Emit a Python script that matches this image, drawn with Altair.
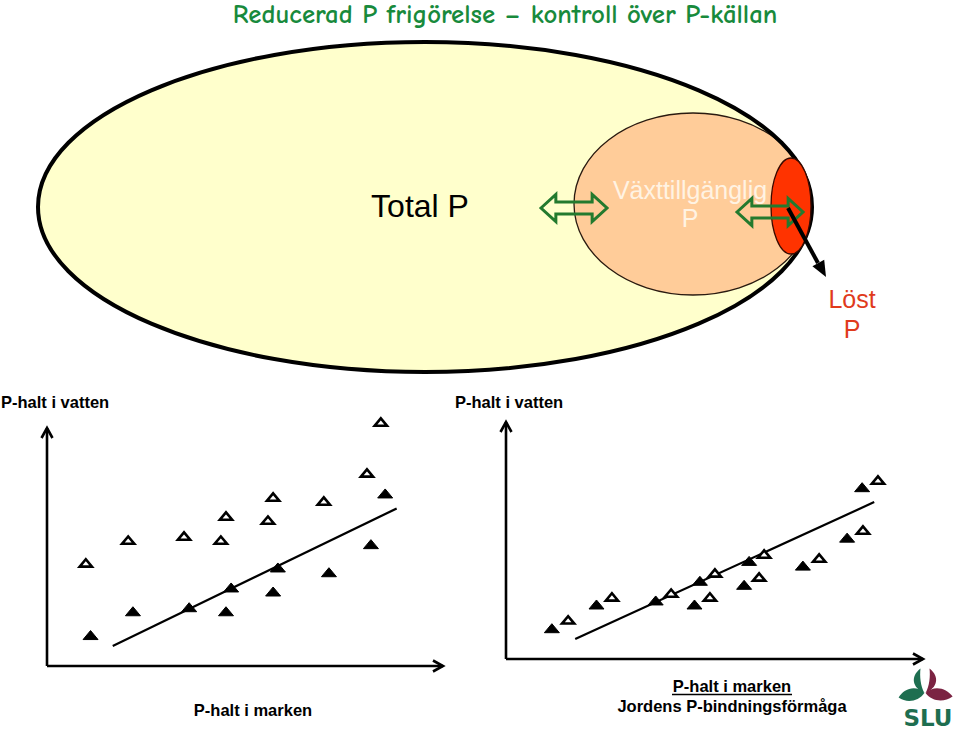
import altair as alt
import pandas as pd

# ---------------- data (scatter panels, arbitrary units 0-100) ----------------
soil_p_filled = [11.0, 21.7, 35.9, 45.2, 46.5, 57.1, 58.3, 71.2, 81.8, 85.4]
water_p_filled = [13.0, 23.0, 24.7, 23.0, 33.0, 31.3, 41.4, 39.4, 51.2, 72.5]

soil_p_open_left = [9.8, 20.5, 34.6, 43.9, 45.2, 55.8, 57.1, 69.9, 80.8, 84.3]
water_p_open_left = [43.3, 52.9, 54.6, 52.9, 63.0, 61.3, 71.0, 69.3, 81.1, 102.5]

soil_p_open_right = [14.9, 25.4, 39.6, 48.9, 50.1, 60.7, 61.9, 75.1, 85.6, 89.2]
water_p_open_right = [16.5, 26.2, 27.8, 26.2, 36.3, 34.6, 44.3, 42.6, 54.4, 75.5]

trend_x = [16.6, 88.3]
trend_y = [8.4, 66.2]

title_text = "Reducerad P frigörelse – kontroll över P-källan"
label_total = "Total P"
label_plant = ["Växttillgänglig", "P"]
label_dissolved = ["Löst", "P"]
label_water = "P-halt i vatten"
label_soil = "P-halt i marken"
label_binding = "Jordens P-bindningsförmåga"
logo_text = "SLU"

FONT = "Liberation Sans, Arial, sans-serif"


def ellipse_path(ax, ay):
    k = 0.5523
    r = lambda v: f"{v:.4f}"
    return (f"M{r(-ax)},0C{r(-ax)},{r(-k*ay)} {r(-k*ax)},{r(-ay)} 0,{r(-ay)}"
            f"C{r(k*ax)},{r(-ay)} {r(ax)},{r(-k*ay)} {r(ax)},0"
            f"C{r(ax)},{r(k*ay)} {r(k*ax)},{r(ay)} 0,{r(ay)}"
            f"C{r(-k*ax)},{r(ay)} {r(-ax)},{r(k*ay)} {r(-ax)},0Z")


PX = alt.X("x:Q", scale=None, axis=None)
PY = alt.Y("y:Q", scale=None, axis=None)


def shape(x, y, path, size, fill=None, stroke=None, sw=0, angle=0):
    kw = dict(shape=path, size=size, opacity=1, angle=angle)
    if fill is not None:
        kw.update(filled=True, fill=fill)
    else:
        kw.update(filled=False, fill="transparent")
    if stroke is not None:
        kw.update(stroke=stroke, strokeWidth=sw)
    else:
        kw.update(strokeWidth=0)
    return alt.Chart(pd.DataFrame({"x": [x], "y": [y]})).mark_point(**kw).encode(x=PX, y=PY)


def text(x, y, t, size, color="black", weight="normal", align="center", font=FONT):
    return alt.Chart(pd.DataFrame({"x": [x], "y": [y], "t": [t]})).mark_text(
        fontSize=size, color=color, fontWeight=weight, align=align, baseline="alphabetic", font=font
    ).encode(x=PX, y=PY, text="t:N")


layers = []

# ---------------- top diagram ----------------
big = ellipse_path(1.0, 165 / 387)
layers.append(shape(425, 207, big, (2 * 387) ** 2, fill="#FFFFCC"))
layers.append(shape(693, 204, ellipse_path(1.0, 91 / 119), (2 * 119) ** 2, fill="#FFCC99", stroke="#2a1a10", sw=1.3))
layers.append(shape(425, 207, big, (2 * 387) ** 2, stroke="#000000", sw=4))
layers.append(shape(791, 206, ellipse_path(20 / 48, 1.0), (2 * 48) ** 2, fill="#FF3300", stroke="#3a0a00", sw=1.3))

layers.append(text(420, 217, label_total, 32))
layers.append(text(690, 199, label_plant[0], 25, color="#FFF3E3"))
layers.append(text(690, 227, label_plant[1], 25, color="#FFF3E3"))
layers.append(text(852, 308, label_dissolved[0], 25, color="#E03A1C"))
layers.append(text(852, 338, label_dissolved[1], 25, color="#E03A1C"))

dbl = "M-1,0L-0.55,-0.41L-0.55,-0.18L0.55,-0.18L0.55,-0.41L1,0L0.55,0.41L0.55,0.18L-0.55,0.18L-0.55,0.41Z"
layers.append(shape(574, 208, dbl, 66 ** 2, stroke="#237A2E", sw=3))
layers.append(shape(770, 212, dbl, 66 ** 2, stroke="#237A2E", sw=3))

# black arrow
layers.append(alt.Chart(pd.DataFrame({"x": [788], "y": [208], "x2": [818], "y2": [263]})).mark_rule(
    strokeWidth=4, color="black").encode(x=PX, y=PY, x2="x2:Q", y2="y2:Q"))
layers.append(shape(826, 277, "M0,0L-0.42,-1L0.42,-1Z", 32 ** 2, fill="black", angle=331.3))

layers.append(alt.Chart(pd.DataFrame({"x": [505], "y": [23], "t": [title_text]})).mark_text(
    fontSize=26.8, fontWeight="bold", color="#188A3C", align="center", baseline="alphabetic",
    font="Comic Sans MS, Comic Neue, Lato"
).encode(x=PX, y=PY, text="t:N"))

# ---------------- scatter panels ----------------
tri = "M-1,0.6L1,0.6L0,-0.6Z"
chev_x = "M-1,-0.55L0,0L-1,0.55"
chev_y = "M-0.55,1L0,0L0.55,1"


def panel(xr, yr, open_x, open_y):
    sx = alt.Scale(domain=[0, 100], range=xr, nice=False, zero=False)
    sy = alt.Scale(domain=[0, 100], range=yr, nice=False, zero=False)
    X = alt.X("x:Q", scale=sx, axis=None)
    Y = alt.Y("y:Q", scale=sy, axis=None)
    out = []
    ax = pd.DataFrame({"x": [0, 0], "y": [0, 0], "x2": [100, 0], "y2": [0, 100]})
    out.append(alt.Chart(ax).mark_rule(strokeWidth=2.6, color="black").encode(x=X, y=Y, x2="x2:Q", y2="y2:Q"))
    out.append(alt.Chart(pd.DataFrame({"x": [100], "y": [0]})).mark_point(
        shape=chev_x, size=400, filled=False, stroke="black", strokeWidth=2.6, opacity=1).encode(x=X, y=Y))
    out.append(alt.Chart(pd.DataFrame({"x": [0], "y": [100]})).mark_point(
        shape=chev_y, size=400, filled=False, stroke="black", strokeWidth=2.6, opacity=1).encode(x=X, y=Y))
    out.append(alt.Chart(pd.DataFrame({"x": trend_x, "y": trend_y})).mark_line(
        strokeWidth=2.2, color="black").encode(x=X, y=Y))
    out.append(alt.Chart(pd.DataFrame({"x": soil_p_filled, "y": water_p_filled})).mark_point(
        shape=tri, size=225, filled=True, fill="black", stroke="black", strokeWidth=1, opacity=1).encode(x=X, y=Y))
    out.append(alt.Chart(pd.DataFrame({"x": open_x, "y": open_y})).mark_point(
        shape=tri, size=150, filled=True, fill="white", stroke="black", strokeWidth=2.6, opacity=1).encode(x=X, y=Y))
    return out


layers += panel([47, 443], [666, 428], soil_p_open_left, water_p_open_left)
layers += panel([506, 923], [659, 422], soil_p_open_right, water_p_open_right)

layers.append(text(1, 408, label_water, 16.5, weight="bold", align="left"))
layers.append(text(455, 408, label_water, 16.5, weight="bold", align="left"))
layers.append(text(253, 716, label_soil, 16.5, weight="bold"))
layers.append(text(732, 692, label_soil, 16.5, weight="bold"))
layers.append(text(732, 712, label_binding, 16.5, weight="bold"))
layers.append(alt.Chart(pd.DataFrame({"x": [672], "y": [694.5], "x2": [792]})).mark_rule(
    strokeWidth=1.6, color="black").encode(x=PX, y=PY, x2="x2:Q"))

# ---------------- SLU logo ----------------
g_stem = "M-0.15,-0.52C-0.5,-0.25 -0.42,0.12 -0.02,0.3C-0.15,0.05 -0.18,-0.25 -0.15,-0.52Z"
g_leaf = "M-0.02,0.3C-0.3,0.02 -0.7,0.15 -0.88,0.45C-0.6,0.65 -0.22,0.58 -0.02,0.3Z"
m_stem = "M0.15,-0.52C0.5,-0.25 0.42,0.12 0.02,0.3C0.15,0.05 0.18,-0.25 0.15,-0.52Z"
m_leaf = "M0.02,0.3C0.3,0.02 0.72,0.13 0.92,0.42C0.62,0.63 0.22,0.58 0.02,0.3Z"
for p, c in [(g_stem, "#1E6E50"), (g_leaf, "#1E6E50"), (m_stem, "#7B2342"), (m_leaf, "#7B2342")]:
    layers.append(shape(925, 684, p, 3600, fill=c))
layers.append(text(928, 726, logo_text, 23, color="#1E6E50", weight="bold", font="DejaVu Sans, sans-serif"))

chart = alt.layer(*layers).resolve_scale(x="independent", y="independent").properties(
    width=960, height=730, autosize=alt.AutoSizeParams(type="none"), padding=0,
    background="white"
).configure_view(strokeWidth=0)

chart.save("out.html", embed_options={"renderer": "svg", "actions": False})
